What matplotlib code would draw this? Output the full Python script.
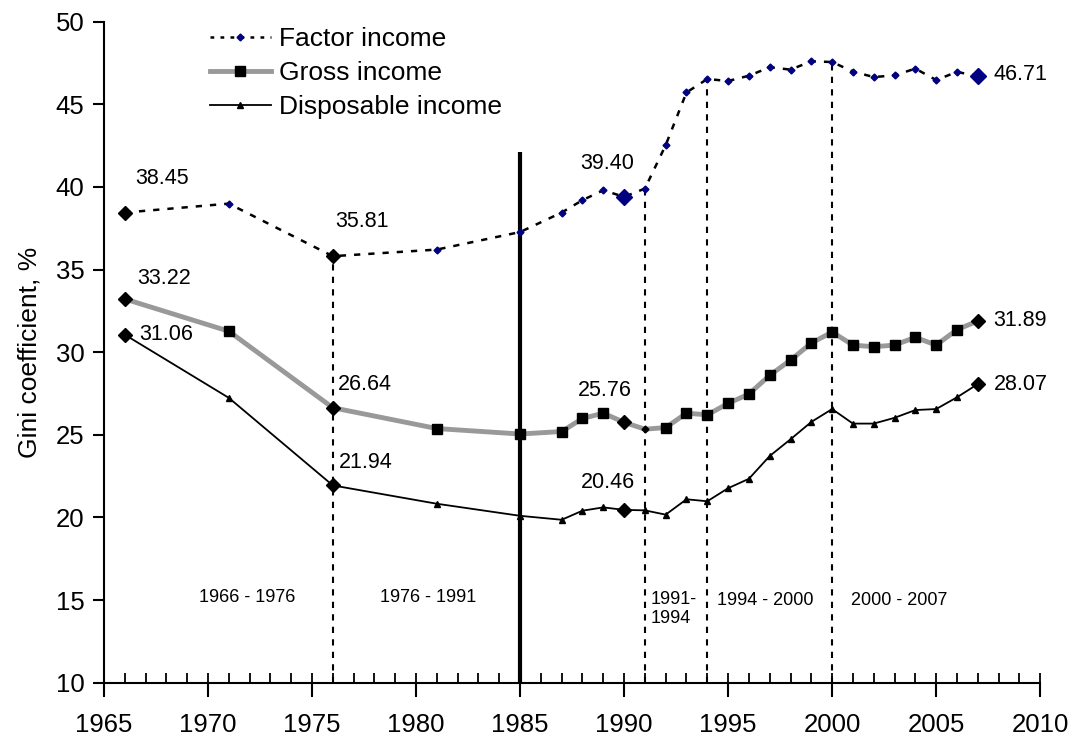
import matplotlib
matplotlib.use("Agg")
import matplotlib.pyplot as plt
from matplotlib.ticker import MultipleLocator
from matplotlib.lines import Line2D

# ── Data ───────────────────────────────────────────────────────────────────────
years = [1966, 1971, 1976, 1981, 1985, 1987, 1988, 1989, 1990, 1991, 1992,
         1993, 1994, 1995, 1996, 1997, 1998, 1999, 2000, 2001, 2002, 2003,
         2004, 2005, 2006, 2007]
factor = [38.45, 38.99, 35.81, 36.21, 37.27, 38.45, 39.20, 39.80, 39.40, 39.90,
          42.53, 45.72, 46.53, 46.41, 46.73, 47.24, 47.10, 47.60, 47.56, 46.98,
          46.65, 46.75, 47.16, 46.47, 46.96, 46.71]
gross = [33.22, 31.27, 26.64, 25.38, 25.05, 25.20, 25.99, 26.31, 25.76, 25.34,
         25.44, 26.31, 26.21, 26.90, 27.47, 28.60, 29.52, 30.55, 31.22, 30.43,
         30.33, 30.43, 30.90, 30.43, 31.36, 31.89]
disposable = [31.06, 27.24, 21.94, 20.83, 20.10, 19.86, 20.41, 20.61, 20.46, 20.43,
              20.17, 21.10, 20.98, 21.77, 22.34, 23.72, 24.73, 25.78, 26.56, 25.68,
              25.68, 26.03, 26.50, 26.56, 27.27, 28.07]

highlight_years = [1966, 1976, 1990, 2007]
period_bounds   = [1976, 1991, 1994, 2000]
break_year      = 1985
break_top       = 42.1
period_labels   = ["1966 - 1976", "1976 - 1991", "1991-\n1994", "1994 - 2000", "2000 - 2007"]

# ── Style ──────────────────────────────────────────────────────────────────────
NAVY = "#000080"
GREY = "#999999"
plt.rcParams.update({"font.family": ["Liberation Sans", "DejaVu Sans"]})

fig = plt.figure(figsize=(10.75, 7.4), dpi=100)
ax = fig.add_axes([0.0967, 0.0774, 0.8709, 0.8933])

idx = lambda y: years.index(y)
hi = [idx(y) for y in highlight_years]
plain = [i for i in range(len(years)) if i not in hi]
gross_plain = [i for i in plain if years[i] != 1991]

# ── Period boundaries ──────────────────────────────────────────────────────────
ax.vlines(period_bounds, 10, [factor[idx(y)] for y in period_bounds],
          colors="black", linestyles=(0, (3, 3)), linewidth=1.5, zorder=1)
ax.vlines([break_year], 10, break_top, colors="black", linewidth=3, zorder=1)

# ── Series ─────────────────────────────────────────────────────────────────────
ax.plot(years, factor, color="black", linestyle=(0, (2.5, 3.2)), linewidth=1.8,
        marker="D", markersize=3.5, markerfacecolor=NAVY, markeredgecolor=NAVY,
        markevery=plain, zorder=3)
ax.plot(years, gross, color=GREY, linewidth=3.5, marker="s", markersize=6.5,
        markerfacecolor="black", markeredgecolor="black",
        markevery=gross_plain, zorder=3)
ax.plot([1991], [gross[idx(1991)]], "D", color="black", markersize=3.5, zorder=4)
ax.plot(years, disposable, color="black", linewidth=1.3, marker="^",
        markersize=4.5, markerfacecolor="black", markeredgecolor="black",
        markevery=plain, zorder=4)

# highlighted points (diamonds)
ax.plot(highlight_years[:2], [factor[i] for i in hi[:2]], "D", color="black",
        markersize=7.5, linestyle="none", zorder=5)
ax.plot(highlight_years[2:], [factor[i] for i in hi[2:]], "D", color=NAVY,
        markersize=8.5, linestyle="none", zorder=5)
ax.plot(highlight_years, [gross[i] for i in hi], "D", color="black",
        markersize=7.5, linestyle="none", zorder=5)
ax.plot(highlight_years, [disposable[i] for i in hi], "D", color="black",
        markersize=7.5, linestyle="none", zorder=5)

# ── Value labels ───────────────────────────────────────────────────────────────
offsets = {
    "factor":     [(0.5, 2.05), (0.1, 2.1), (-2.1, 2.0), (0.76, 0.12)],
    "gross":      [(0.6, 1.22), (0.25, 1.43), (-2.2, 1.95), (0.76, 0.0)],
    "disposable": [(0.7, 0.0), (0.3, 1.36), (-2.1, 1.63), (0.76, 0.0)],
}
for name, vals in [("factor", factor), ("gross", gross), ("disposable", disposable)]:
    for (dx, dy), y, i in zip(offsets[name], highlight_years, hi):
        ax.text(y + dx, vals[i] + dy, f"{vals[i]:.2f}", fontsize=15.5,
                ha="left", va="center", zorder=6)

# ── Period labels ──────────────────────────────────────────────────────────────
period_pos = [(1971.9, 15.15, "center"), (1980.6, 15.15, "center"),
              (1991.3, 14.45, "left"), (1996.8, 15.0, "center"),
              (2003.2, 15.0, "center")]
for (x, y, ha), lab in zip(period_pos, period_labels):
    ax.text(x, y, lab, fontsize=13, ha=ha, va="center", linespacing=1.15)

# ── Axes ───────────────────────────────────────────────────────────────────────
ax.set_xlim(1965, 2010)
ax.set_ylim(10, 50)
ax.xaxis.set_major_locator(MultipleLocator(5))
ax.xaxis.set_minor_locator(MultipleLocator(1))
ax.xaxis.remove_overlapping_locs = False
ax.yaxis.set_major_locator(MultipleLocator(5))
for side in ("top", "right"):
    ax.spines[side].set_visible(False)
for side in ("left", "bottom"):
    ax.spines[side].set_linewidth(1.5)
ax.tick_params(axis="x", which="major", direction="out", length=10, width=1.5,
               labelsize=18.5, pad=12)
ax.tick_params(axis="x", which="minor", direction="in", length=7, width=1.3)
ax.tick_params(axis="y", which="major", direction="out", length=8, width=1.5,
               labelsize=18.5, pad=6)
ax.set_ylabel("Gini coefficient, %", fontsize=19, labelpad=10)

# ── Legend ─────────────────────────────────────────────────────────────────────
handles = [
    Line2D([], [], color="black", linestyle=(0, (1.5, 2.5)), linewidth=1.8,
           marker="D", markersize=3.5, markerfacecolor=NAVY, markeredgecolor=NAVY),
    Line2D([], [], color=GREY, linewidth=3.5, marker="s", markersize=6.5,
           markerfacecolor="black", markeredgecolor="black"),
    Line2D([], [], color="black", linewidth=1.3, marker="^", markersize=4.5,
           markerfacecolor="black", markeredgecolor="black"),
]
fig.legend(handles, ["Factor income", "Gross income", "Disposable income"],
           loc="upper left", bbox_to_anchor=(210 / 1075, 1 - 27 / 740),
           frameon=False, fontsize=19, handlelength=2.3, handletextpad=0.3,
           labelspacing=0.38, borderpad=0, borderaxespad=0)

fig.savefig("out.png", dpi=100)
